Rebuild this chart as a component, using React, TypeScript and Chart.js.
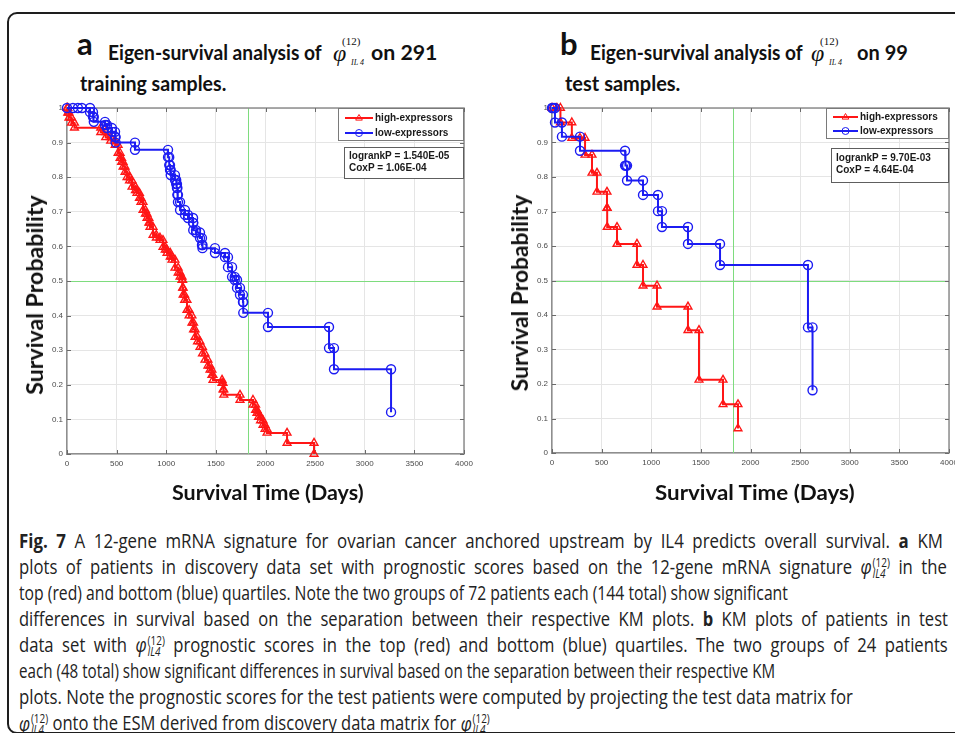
import React, { useEffect, useLayoutEffect, useRef } from "react";
import { Chart, registerables } from "chart.js";
Chart.register(...registerables);

// ---------- data ----------
const xTicks = [0, 500, 1000, 1500, 2000, 2500, 3000, 3500, 4000];
const yTicks = [0, 0.1, 0.2, 0.3, 0.4, 0.5, 0.6, 0.7, 0.8, 0.9, 1];
const seriesNames = ["high-expressors", "low-expressors"];
const refDay = 1825;
const refSurv = 0.5;

// panel a (291 training samples)
const aHighTimes = [8, 20, 45, 75, 340, 390, 440, 485, 515, 535, 550, 565, 585, 605, 630, 655, 690, 705, 730, 745, 766, 790, 806, 825, 836, 867, 900, 937, 967, 990, 1008, 1040, 1058, 1088, 1120, 1139, 1159, 1165, 1170, 1185, 1209, 1230, 1259, 1275, 1290, 1315, 1340, 1365, 1390, 1420, 1441, 1460, 1471, 1562, 1572, 1580, 1743, 1874, 1900, 1914, 1930, 1950, 1975, 1995, 2015, 2217, 2489];
const aHighSurv = [0.986, 0.972, 0.957, 0.943, 0.93, 0.915, 0.905, 0.893, 0.87, 0.855, 0.844, 0.83, 0.815, 0.8, 0.79, 0.772, 0.762, 0.754, 0.74, 0.728, 0.705, 0.694, 0.682, 0.668, 0.656, 0.633, 0.625, 0.618, 0.598, 0.59, 0.581, 0.57, 0.561, 0.538, 0.524, 0.512, 0.503, 0.48, 0.46, 0.445, 0.416, 0.4, 0.379, 0.36, 0.338, 0.325, 0.309, 0.29, 0.272, 0.255, 0.243, 0.228, 0.214, 0.205, 0.186, 0.171, 0.156, 0.142, 0.127, 0.118, 0.107, 0.097, 0.084, 0.072, 0.061, 0.032, 0];
const aLowTimes = [60, 110, 150, 232, 262, 270, 383, 403, 453, 484, 490, 685, 1018, 1030, 1038, 1045, 1088, 1100, 1108, 1112, 1118, 1139, 1189, 1219, 1270, 1272, 1300, 1340, 1360, 1365, 1491, 1592, 1622, 1663, 1690, 1713, 1743, 1773, 1776, 2025, 2640, 2690, 3265];
const aLowSurv = [1, 1, 1, 0.988, 0.974, 0.96, 0.951, 0.942, 0.931, 0.916, 0.9, 0.879, 0.858, 0.835, 0.821, 0.806, 0.792, 0.78, 0.769, 0.749, 0.728, 0.705, 0.691, 0.682, 0.668, 0.647, 0.64, 0.624, 0.604, 0.595, 0.581, 0.569, 0.54, 0.512, 0.503, 0.48, 0.46, 0.439, 0.408, 0.367, 0.306, 0.245, 0.121];
const aStats = ["logrankP = 1.540E-05", "CoxP = 1.06E-04"];

// panel b (99 test samples)
const bHighTimes = [50, 85, 200, 282, 333, 403, 453, 554, 556, 655, 856, 917, 1058, 1370, 1481, 1723, 1874];
const bHighSurv = [1, 0.958, 0.913, 0.913, 0.864, 0.812, 0.757, 0.71, 0.655, 0.606, 0.545, 0.485, 0.424, 0.356, 0.212, 0.141, 0.071];
const bLowTimes = [10, 30, 100, 282, 736, 745, 756, 917, 1068, 1108, 1370, 1693, 2579, 2625];
const bLowSurv = [1, 0.958, 0.917, 0.876, 0.833, 0.833, 0.79, 0.748, 0.701, 0.655, 0.606, 0.545, 0.364, 0.182];
const bStats = ["logrankP = 9.70E-03", "CoxP = 4.64E-04"];

// ---------- helpers ----------
const RED = "#ff1616";
const BLUE = "#1c1cf2";

function kmPoints(times: number[], surv: number[]) {
  const pts: { x: number; y: number }[] = [{ x: 0, y: 1 }];
  let prev = 1;
  times.forEach((t, i) => {
    pts.push({ x: t, y: prev });
    if (surv[i] !== prev) pts.push({ x: t, y: surv[i] });
    prev = surv[i];
  });
  return pts;
}

function drawMarker(ctx: CanvasRenderingContext2D, style: string, cx: number, cy: number, r: number) {
  ctx.beginPath();
  if (style === "triangle") {
    ctx.moveTo(cx, cy - r);
    ctx.lineTo(cx + r * 0.95, cy + r * 0.6);
    ctx.lineTo(cx - r * 0.95, cy + r * 0.6);
    ctx.closePath();
  } else {
    ctx.arc(cx, cy, r, 0, Math.PI * 2);
  }
  ctx.stroke();
}

const kmDecor = {
  id: "kmDecor",
  beforeDatasetsDraw(chart: any, _a: any, o: any) {
    const { ctx, chartArea: ca, scales } = chart;
    const xs = scales.x;
    const ys = scales.y;
    ctx.save();
    ctx.strokeStyle = "#7edc7e";
    ctx.lineWidth = 1;
    const gx = Math.round(xs.getPixelForValue(o.refDay)) + 0.5;
    const gy = Math.round(ys.getPixelForValue(o.refSurv)) + 0.5;
    ctx.beginPath();
    ctx.moveTo(gx, ca.top);
    ctx.lineTo(gx, ca.bottom);
    ctx.moveTo(ca.left, gy);
    ctx.lineTo(ca.right, gy);
    ctx.stroke();
    ctx.strokeStyle = "#8e8e8e";
    ctx.lineWidth = 1.5;
    ctx.beginPath();
    ctx.moveTo(ca.left, ca.top);
    ctx.lineTo(ca.right, ca.top);
    ctx.lineTo(ca.right, ca.bottom);
    ctx.stroke();
    ctx.strokeStyle = "#6a6a6a";
    ctx.lineWidth = 1;
    ctx.beginPath();
    xs.ticks.forEach((t: any) => {
      const px = Math.round(xs.getPixelForValue(t.value)) + 0.5;
      ctx.moveTo(px, ca.bottom);
      ctx.lineTo(px, ca.bottom - 4);
      ctx.moveTo(px, ca.top);
      ctx.lineTo(px, ca.top + 4);
    });
    ys.ticks.forEach((t: any) => {
      const py = Math.round(ys.getPixelForValue(t.value)) + 0.5;
      ctx.moveTo(ca.left, py);
      ctx.lineTo(ca.left + 4, py);
      ctx.moveTo(ca.right, py);
      ctx.lineTo(ca.right - 4, py);
    });
    ctx.stroke();
    ctx.restore();
  },
  afterDatasetsDraw(chart: any, _a: any, o: any) {
    const { ctx, chartArea: ca } = chart;
    ctx.save();
    const L = o.legend;
    const lx = ca.right - L.w;
    const ly = ca.top + L.dy;
    ctx.fillStyle = "#fff";
    ctx.fillRect(lx, ly, L.w, L.h);
    ctx.strokeStyle = "#7a7a7a";
    ctx.lineWidth = 1;
    ctx.strokeRect(lx + 0.5, ly + 0.5, L.w - 1, L.h - 1);
    ctx.font = 'bold 10px "Liberation Sans", Arial, sans-serif';
    ctx.textBaseline = "middle";
    chart.data.datasets.forEach((ds: any, i: number) => {
      const yy = ly + L.row0 + i * L.rowGap;
      ctx.strokeStyle = ds.borderColor;
      ctx.lineWidth = 2;
      ctx.beginPath();
      ctx.moveTo(lx + L.lx0, yy);
      ctx.lineTo(lx + L.lx1, yy);
      ctx.stroke();
      ctx.lineWidth = 1;
      drawMarker(ctx, ds.pointStyle, lx + (L.lx0 + L.lx1) / 2, yy, 3.5);
      ctx.fillStyle = "#1a1a1a";
      ctx.fillText(ds.label, lx + L.tx, yy + 0.5);
    });
    const S = o.stats;
    const sx = ca.right - S.w;
    const sy = ca.top + S.dy;
    ctx.fillStyle = "#fff";
    ctx.fillRect(sx, sy, S.w, S.h);
    ctx.strokeStyle = "#5e5e5e";
    ctx.strokeRect(sx + 0.5, sy + 0.5, S.w - 1, S.h - 1);
    ctx.fillStyle = "#1a1a1a";
    S.lines.forEach((s: string, i: number) => {
      ctx.fillText(s, sx + S.tx, sy + S.row0 + i * S.rowGap);
    });
    ctx.restore();
  },
};

type PanelProps = {
  left: number;
  top: number;
  highT: number[];
  highS: number[];
  lowT: number[];
  lowS: number[];
  stats: string[];
  axisH: number;
  legend: any;
  statBox: any;
};

function KMChart(p: PanelProps) {
  const ref = useRef<HTMLCanvasElement>(null);
  const W = 440;
  const H = 385;
  useEffect(() => {
    const tickFont = { family: '"Liberation Sans", Arial, sans-serif', size: 8 };
    const chart = new Chart(ref.current as HTMLCanvasElement, {
      type: "scatter",
      data: {
        datasets: [
          {
            label: seriesNames[0],
            data: kmPoints(p.highT, p.highS),
            showLine: true,
            borderColor: RED,
            borderWidth: 2,
            pointStyle: "triangle",
            pointRadius: 4.5,
            pointBorderColor: RED,
            pointBackgroundColor: "rgba(0,0,0,0)",
            pointBorderWidth: 1.4,
            clip: false,
            order: 1,
          } as any,
          {
            label: seriesNames[1],
            data: kmPoints(p.lowT, p.lowS),
            showLine: true,
            borderColor: BLUE,
            borderWidth: 2,
            pointStyle: "circle",
            pointRadius: 4.5,
            pointBorderColor: BLUE,
            pointBackgroundColor: "rgba(0,0,0,0)",
            pointBorderWidth: 1.4,
            clip: false,
            order: 0,
          } as any,
        ],
      },
      options: {
        animation: false,
        responsive: false,
        maintainAspectRatio: false,
        events: [],
        layout: { padding: { top: 12, right: 16, bottom: 0, left: 0 } },
        plugins: {
          legend: { display: false },
          tooltip: { enabled: false },
          kmDecor: { refDay, refSurv, legend: p.legend, stats: { ...p.statBox, lines: p.stats } },
        } as any,
        scales: {
          x: {
            type: "linear",
            min: 0,
            max: 4000,
            afterBuildTicks: (s: any) => {
              s.ticks = xTicks.map((v) => ({ value: v }));
            },
            afterFit: (s: any) => {
              s.height = p.axisH;
            },
            grid: { color: "#e5e5e5", lineWidth: 1, drawTicks: false },
            border: { display: true, color: "#8e8e8e", width: 1.5 },
            ticks: { padding: 5, font: tickFont, color: "#4a4a4a", maxRotation: 0, autoSkip: false, callback: (v: any) => String(v) },
          },
          y: {
            type: "linear",
            min: 0,
            max: 1,
            afterBuildTicks: (s: any) => {
              s.ticks = yTicks.map((v) => ({ value: v }));
            },
            afterFit: (s: any) => {
              s.width = 27;
            },
            grid: { color: "#e5e5e5", lineWidth: 1, drawTicks: false },
            border: { display: true, color: "#8e8e8e", width: 1.5 },
            ticks: { padding: 4, font: tickFont, color: "#4a4a4a", autoSkip: false, callback: (v: any) => String(Math.round(Number(v) * 10) / 10) },
          },
        },
      },
      plugins: [kmDecor as any],
    });
    return () => chart.destroy();
  }, []);
  return <canvas ref={ref} width={W} height={H} style={{ position: "absolute", left: p.left, top: p.top, width: W, height: H }} />;
}

// ---------- text helpers ----------
function Fit(props: { x: number; y: number; size: number; w?: number; family?: string; weight?: number; italic?: boolean; color?: string; base?: number; children: any }) {
  const { x, y, size, w, family = "Lato, sans-serif", weight = 700, italic = false, color = "#111", base = 0.887, children } = props;
  const ref = useRef<HTMLDivElement>(null);
  useLayoutEffect(() => {
    const el = ref.current;
    if (!el || !w) return;
    const apply = () => {
      const nw = el.offsetWidth;
      if (nw > 0) el.style.transform = `scaleX(${w / nw})`;
    };
    apply();
    const f = (document as any).fonts;
    if (f && f.ready) f.ready.then(apply);
  }, [w]);
  return (
    <div
      ref={ref}
      style={{
        position: "absolute",
        left: x,
        top: y - base * size,
        fontSize: size,
        lineHeight: `${size}px`,
        fontFamily: family,
        fontWeight: weight,
        fontStyle: italic ? "italic" : "normal",
        color,
        whiteSpace: "nowrap",
        transformOrigin: "0 0",
      }}
    >
      {children}
    </div>
  );
}

function VLabel(props: { cx: number; cy: number; size: number; len: number; text: string }) {
  const ref = useRef<HTMLDivElement>(null);
  useLayoutEffect(() => {
    const el = ref.current;
    if (!el) return;
    const apply = () => {
      const nw = el.offsetWidth;
      el.style.transform = `translate(-50%, -50%) rotate(-90deg) scaleX(${props.len / nw})`;
    };
    apply();
    const f = (document as any).fonts;
    if (f && f.ready) f.ready.then(apply);
  }, []);
  return (
    <div
      ref={ref}
      style={{
        position: "absolute",
        left: props.cx,
        top: props.cy,
        fontSize: props.size,
        lineHeight: `${props.size}px`,
        fontFamily: "Lato, sans-serif",
        fontWeight: 700,
        color: "#111",
        whiteSpace: "nowrap",
        transform: "translate(-50%, -50%) rotate(-90deg)",
      }}
    >
      {props.text}
    </div>
  );
}

function Phi() {
  return (
    <span style={{ whiteSpace: "nowrap" }}>
      <i>φ</i>
      <span style={{ display: "inline-block", verticalAlign: "-0.32em", fontSize: "0.6em", lineHeight: "0.95em", marginLeft: "0.08em", wordSpacing: 0 }}>
        <span style={{ display: "block" }}>(12)</span>
        <span style={{ display: "block", fontStyle: "italic" }}>IL4</span>
      </span>
    </span>
  );
}

function PanelTitle(p: { letterX: number; letter: string; textX: number; textW: number; phiX: number; onX: number; onText: string; onW: number; line2: string; line2X: number; line2W: number }) {
  return (
    <>
      <Fit x={p.letterX} y={55} size={31}>{p.letter}</Fit>
      <Fit x={p.textX} y={60} size={20} w={p.textW}>Eigen-survival analysis of</Fit>
      <Fit x={p.phiX} y={61} size={24} weight={400} italic family='"Liberation Serif", serif' base={0.837}>φ</Fit>
      <Fit x={p.phiX + 9} y={45} size={11} weight={400} family='"Liberation Serif", serif' base={0.837}>(12)</Fit>
      <Fit x={p.phiX + 18} y={66} size={8} weight={400} italic family='"Liberation Serif", serif' base={0.837}>IL 4</Fit>
      <Fit x={p.onX} y={60} size={20} w={p.onW}>{p.onText}</Fit>
      <Fit x={p.line2X} y={91} size={20} w={p.line2W}>{p.line2}</Fit>
    </>
  );
}

const capFont = '"Open Sans", sans-serif';

type CapLine = { w: number; just: boolean; c: any };

function Caption(props: { lines: CapLine[]; x: number; y0: number; gap: number; size: number }) {
  const refs = useRef<(HTMLDivElement | null)[]>([]);
  useLayoutEffect(() => {
    const apply = () => {
      const els = refs.current;
      const nat: number[] = [];
      els.forEach((el) => {
        if (!el) return;
        el.style.wordSpacing = "0px";
        el.style.transform = "none";
      });
      els.forEach((el, i) => {
        nat[i] = el ? el.offsetWidth : 0;
      });
      let sum = 0;
      let n = 0;
      props.lines.forEach((l, i) => {
        if (!l.just && nat[i] > 0) {
          sum += l.w / nat[i];
          n++;
        }
      });
      const s = n ? sum / n : 1;
      els.forEach((el, i) => {
        if (!el) return;
        const l = props.lines[i];
        if (l.just) {
          const spaces = (el.textContent || "").split(" ").length - 1;
          const extra = Math.max(0, Math.min((l.w / s - nat[i]) / Math.max(1, spaces), 4 / s));
          el.style.wordSpacing = `${extra}px`;
        }
        const nw = el.offsetWidth;
        el.style.transform = `scaleX(${l.w / nw})`;
      });
    };
    apply();
    const f = (document as any).fonts;
    if (f && f.ready) f.ready.then(apply);
  }, []);
  return (
    <>
      {props.lines.map((l, i) => (
        <div
          key={i}
          ref={(el) => {
            refs.current[i] = el;
          }}
          style={{
            position: "absolute",
            left: props.x,
            top: props.y0 + i * props.gap - 0.888 * props.size,
            fontSize: props.size,
            lineHeight: `${props.size}px`,
            fontFamily: capFont,
            color: "#222",
            whiteSpace: "nowrap",
            transformOrigin: "0 0",
          }}
        >
          {l.c}
        </div>
      ))}
    </>
  );
}

export default function App() {
  const capLines: CapLine[] = [
    { w: 924, just: true, c: <><b>Fig. 7</b> A 12-gene mRNA signature for ovarian cancer anchored upstream by IL4 predicts overall survival. <b>a</b> KM</> },
    { w: 928, just: true, c: <>plots of patients in discovery data set with prognostic scores based on the 12-gene mRNA signature <Phi /> in the</> },
    { w: 769, just: false, c: <>top (red) and bottom (blue) quartiles. Note the two groups of 72 patients each (144 total) show significant</> },
    { w: 929, just: true, c: <>differences in survival based on the separation between their respective KM plots. <b>b</b> KM plots of patients in test</> },
    { w: 929, just: true, c: <>data set with <Phi /> prognostic scores in the top (red) and bottom (blue) quartiles. The two groups of 24 patients</> },
    { w: 756, just: false, c: <>each (48 total) show significant differences in survival based on the separation between their respective KM</> },
    { w: 834, just: false, c: <>plots. Note the prognostic scores for the test patients were computed by projecting the test data matrix for</> },
    { w: 471, just: false, c: <><Phi /> onto the ESM derived from discovery data matrix for <Phi /></> },
  ];
  return (
    <div style={{ position: "absolute", left: 0, top: 0, width: 955, height: 733, overflow: "hidden", background: "#fff" }}>
      <div style={{ position: "absolute", left: 7, top: 12, width: 1000, height: 722, border: "2px solid #1e1e1e", borderRadius: 10, boxSizing: "border-box" }} />

      <PanelTitle letterX={77} letter="a" textX={108} textW={214} phiX={333} onX={371} onText="on 291" onW={66} line2="training samples." line2X={80} line2W={146} />
      <PanelTitle letterX={560} letter="b" textX={590} textW={213} phiX={811} onX={857} onText="on 99" onW={51} line2="test samples." line2X={565} line2W={115} />

      <KMChart left={40} top={96} highT={aHighTimes} highS={aHighSurv} lowT={aLowTimes} lowS={aLowSurv} stats={aStats} axisH={27}
        legend={{ w: 126, h: 33, dy: 0, lx0: 7, lx1: 35, tx: 37, row0: 10, rowGap: 15 }}
        statBox={{ w: 120, h: 32, dy: 39, tx: 5, row0: 9, rowGap: 12 }} />
      <KMChart left={525} top={96} highT={bHighTimes} highS={bHighSurv} lowT={bLowTimes} lowS={bLowSurv} stats={bStats} axisH={28}
        legend={{ w: 123, h: 31, dy: 0, lx0: 7, lx1: 32, tx: 34, row0: 9, rowGap: 14 }}
        statBox={{ w: 118, h: 35, dy: 40, tx: 5, row0: 10, rowGap: 12 }} />

      <VLabel cx={34.5} cy={295} size={22} len={200} text="Survival  Probability" />
      <VLabel cx={520} cy={293} size={22} len={197} text="Survival  Probability" />
      <Fit x={172} y={500} size={21} w={192}>Survival Time (Days)</Fit>
      <Fit x={655} y={500} size={21} w={200}>Survival Time (Days)</Fit>

      <Caption lines={capLines} x={19} y0={548} gap={26.1} size={19.5} />
    </div>
  );
}
